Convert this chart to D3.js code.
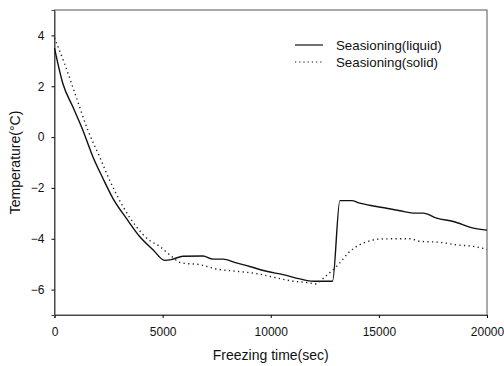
<!DOCTYPE html>
<html>
<head>
<meta charset="utf-8">
<script src="https://cdn.jsdelivr.net/npm/d3@7"></script>
<style>
  body { margin: 0; background: #fff; }
  text { font-family: Arial, "Liberation Sans", sans-serif; fill: #111; }
</style>
</head>
<body>
<div id="chart"></div>
<script>
// freezing time (sec) and temperature (°C)
var liquidTime = [0, 385, 848, 1311, 1774, 2237, 2700, 3318, 3936, 4553, 5093, 5402, 5942, 6866, 7329, 7792, 8410, 9028, 9800, 10571, 11343, 11960, 12857, 13196, 13737, 14122, 14740, 15357, 15974, 16591, 17054, 17671, 18443, 19369, 20000];
var liquidTemp = [3.5, 2.11, 1.19, 0.27, -0.77, -1.62, -2.41, -3.19, -3.91, -4.43, -4.85, -4.82, -4.69, -4.68, -4.8, -4.8, -4.95, -5.09, -5.28, -5.41, -5.58, -5.67, -5.67, -2.5, -2.5, -2.6, -2.71, -2.8, -2.9, -2.99, -2.99, -3.19, -3.32, -3.58, -3.66];
var solidTime = [0, 463, 1003, 1543, 2084, 2547, 3164, 3781, 4398, 4861, 5324, 5865, 6713, 7484, 8410, 9336, 10262, 11034, 11806, 12038, 12501, 12964, 13196, 13582, 14045, 14508, 15048, 15820, 16437, 16900, 17826, 18598, 19369, 20000];
var solidTemp = [3.9, 2.89, 1.58, 0.27, -0.77, -1.69, -2.73, -3.52, -4.07, -4.3, -4.63, -4.95, -5.02, -5.19, -5.28, -5.37, -5.54, -5.67, -5.74, -5.78, -5.5, -5.15, -4.95, -4.56, -4.27, -4.1, -4.01, -4.0, -4.0, -4.1, -4.14, -4.24, -4.3, -4.42];
var xTicks = [0, 5000, 10000, 15000, 20000];
var yTicks = [-6, -4, -2, 0, 2, 4];
var seriesNames = ['Seasioning(liquid)', 'Seasioning(solid)'];

(function () {
    var width = 504, height = 366;
    var mLeft = 54.5, mRight = 487, mTop = 10, mBottom = 315;

    var svg = d3.select('#chart').append('svg')
        .attr('width', width).attr('height', height);

    var x = d3.scaleLinear().domain([0, 20000]).range([mLeft, mRight]);
    var y = d3.scaleLinear().domain([-7, 5]).range([mBottom, mTop]);

    // frame
    svg.append('rect').attr('x', mLeft).attr('y', mTop)
        .attr('width', mRight - mLeft).attr('height', mBottom - mTop)
        .style('fill', 'none').style('stroke', '#555').style('stroke-width', 1);

    var xAxis = svg.append('g').attr('transform', 'translate(0,' + mBottom + ')')
        .call(d3.axisBottom(x).tickValues(xTicks).tickSize(3).tickFormat(d3.format('d')));
    xAxis.selectAll('text').attr('y', 10).attr('dy', '0.9em').style('font-size', '12px');
    xAxis.select('.domain').style('stroke', '#444');

    var yAxis = svg.append('g').attr('transform', 'translate(' + mLeft + ',0)')
        .call(d3.axisLeft(y).tickValues(yTicks).tickSize(3).tickFormat(d3.format('d')));
    yAxis.selectAll('text').attr('x', -10).style('font-size', '12px');
    yAxis.select('.domain').style('stroke', '#444');

    // axis titles
    svg.append('text').attr('x', (mLeft + mRight) / 2).attr('y', 360)
        .attr('text-anchor', 'middle').style('font-size', '14px')
        .text('Freezing time(sec)');
    svg.append('text')
        .attr('transform', 'translate(20,' + ((mTop + mBottom) / 2) + ') rotate(-90)')
        .attr('text-anchor', 'middle').style('font-size', '14px')
        .text('Temperature(°C)');

    var line = d3.line()
        .curve(d3.curveMonotoneX)
        .x(function (d) { return x(d[0]); })
        .y(function (d) { return y(d[1]); });

    svg.append('path')
        .datum(d3.zip(liquidTime, liquidTemp))
        .attr('d', line)
        .style('fill', 'none').style('stroke', '#111').style('stroke-width', 1.4);

    svg.append('path')
        .datum(d3.zip(solidTime, solidTemp))
        .attr('d', line)
        .style('fill', 'none').style('stroke', '#222').style('stroke-width', 1.4)
        .style('stroke-dasharray', '1.3,3.3');

    // legend
    var legend = svg.append('g');
    seriesNames.forEach(function (name, i) {
        var ly = 45 + i * 17;
        legend.append('line').attr('x1', 295).attr('x2', 323).attr('y1', ly).attr('y2', ly)
            .style('stroke', '#111').style('stroke-width', 1.2)
            .style('stroke-dasharray', i === 1 ? '1.2,3' : null);
        legend.append('text').attr('x', 336).attr('y', ly + 4.5)
            .style('font-size', '13.3px').text(name);
    });
})();
</script>
</body>
</html>
